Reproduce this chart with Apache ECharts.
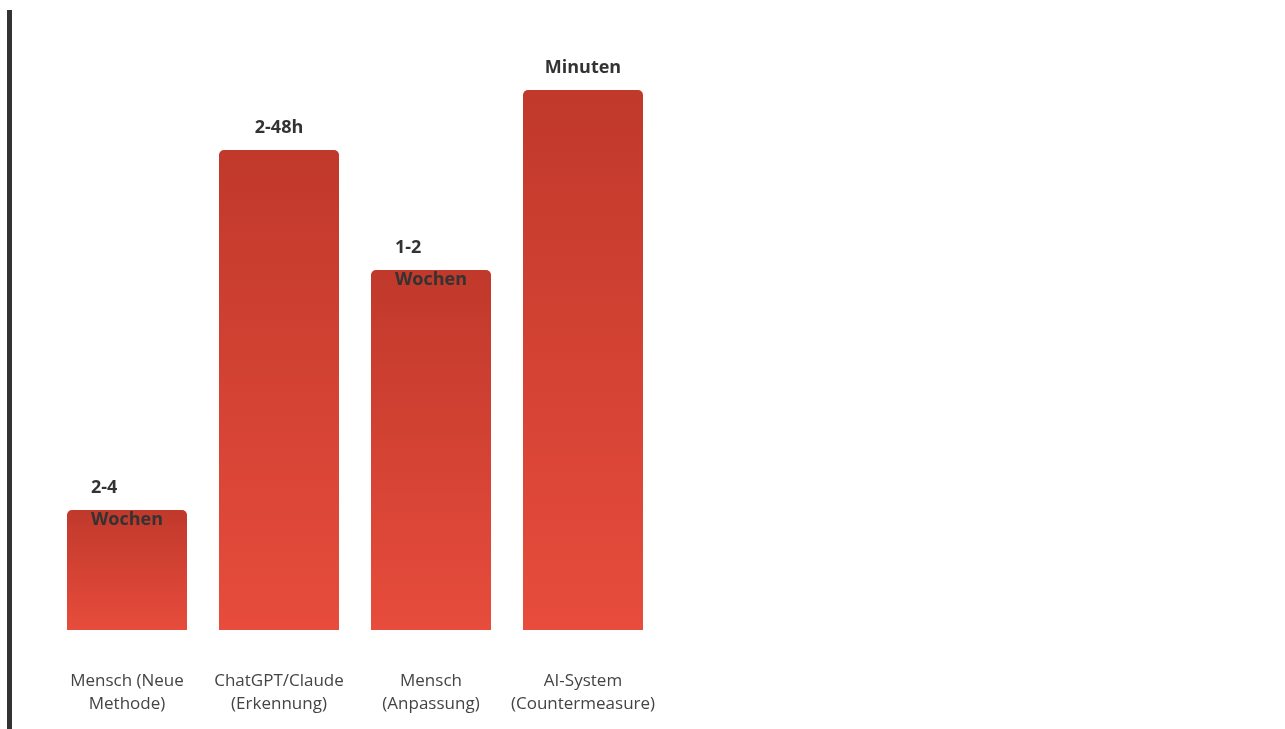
<!DOCTYPE html>
<html>
<head>
<meta charset="utf-8">
<script src="https://cdn.jsdelivr.net/npm/echarts@6/dist/echarts.min.js"></script>
<style>
  html, body { margin: 0; padding: 0; background: #ffffff; }
  #wrap { position: relative; width: 1285px; height: 729px; overflow: hidden; }
  #bar { position: absolute; left: 7px; top: 10px; width: 5px; height: 719px; background: #333333; }
  #chart { position: absolute; left: 0; top: 0; width: 1285px; height: 729px; }
</style>
</head>
<body>
<div id="wrap">
  <div id="bar"></div>
  <div id="chart"></div>
</div>
<script>
// Categories (tick labels)
const categories = [
  'Mensch (Neue\nMethode)',
  'ChatGPT/Claude\n(Erkennung)',
  'Mensch\n(Anpassung)',
  'AI-System\n(Countermeasure)'
];
// Relative speed score per category
const speedScores = [20, 80, 60, 90];
// Text shown above each bar
const valueLabels = ['2-4\nWochen', '2-48h', '1-2\nWochen', 'Minuten'];

const chart = echarts.init(document.getElementById('chart'), null, { renderer: 'canvas' });

const data = speedScores.map((v, i) => {
  const lines = valueLabels[i].split('\n');
  return {
    value: v,
    label: { offset: [0, (lines.length - 1) * 32] }
  };
});

const option = {
  animation: false,
  grid: { left: 51, right: 626, top: 30, bottom: 99 },
  xAxis: {
    type: 'category',
    data: categories,
    axisLine: { show: false },
    axisTick: { show: false },
    axisLabel: {
      interval: 0,
      hideOverlap: false,
      margin: 40,
      width: 120,
      fontSize: 17,
      lineHeight: 23,
      color: '#444444',
      fontFamily: 'Open Sans'
    }
  },
  yAxis: {
    type: 'value',
    min: 0,
    max: 100,
    show: false,
    splitLine: { show: false }
  },
  series: [{
    type: 'bar',
    data: data,
    barWidth: 120,
    itemStyle: {
      borderRadius: [5, 5, 0, 0],
      color: new echarts.graphic.LinearGradient(0, 0, 0, 1, [
        { offset: 0, color: '#c0392b' },
        { offset: 1, color: '#e74c3c' }
      ])
    },
    label: {
      show: true,
      position: 'top',
      distance: 6,
      formatter: (p) => valueLabels[p.dataIndex].split('\n').map(l => '{t|' + l + '}').join('\n'),
      rich: {
        t: {
          align: 'left',
          fontSize: 18,
          fontWeight: 'bold',
          color: '#333333',
          lineHeight: 32,
          fontFamily: 'Open Sans'
        }
      }
    }
  }]
};

chart.setOption(option);
</script>
</body>
</html>
